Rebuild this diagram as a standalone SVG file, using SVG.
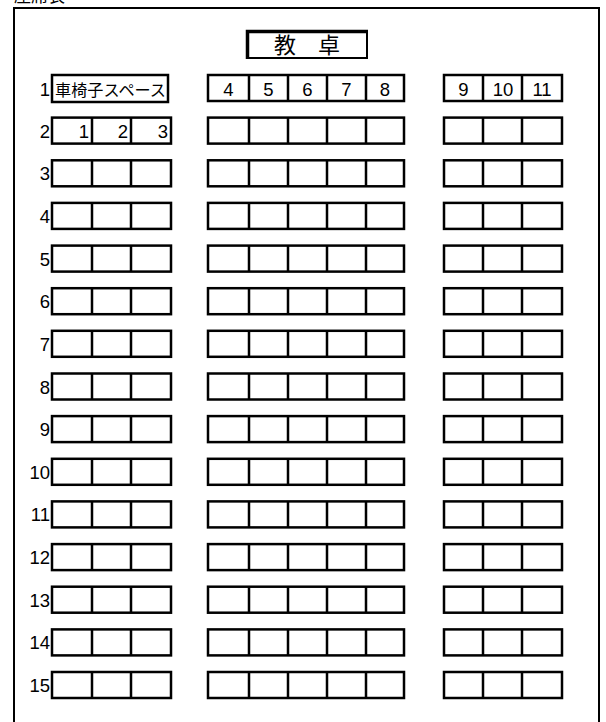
<svg xmlns="http://www.w3.org/2000/svg" xmlns:xlink="http://www.w3.org/1999/xlink" width="606" height="722" viewBox="0 0 606 722">
<style>
.ln{fill:none;stroke:#000;stroke-width:2.5}
.num{font-family:"Liberation Sans",Arial,sans-serif;font-size:18.5px;fill:#000}
.jp{font-family:"Noto Sans CJK JP","Noto Sans CJK SC",sans-serif;fill:#000}
</style>
<defs>
<g id="left3"><rect class="ln" x="52" y="0" width="119" height="26"/><path class="ln" d="M92 0V26M131 0V26"/></g>
<g id="mid5"><rect class="ln" x="208" y="0" width="196" height="26"/><path class="ln" d="M249 0V26M288 0V26M327 0V26M366 0V26"/></g>
<g id="right3"><rect class="ln" x="444" y="0" width="118" height="26"/><path class="ln" d="M483 0V26M522 0V26"/></g>
<g id="seatrow"><use xlink:href="#left3"/><use xlink:href="#mid5"/><use xlink:href="#right3"/></g>
</defs>
<rect width="606" height="722" fill="#fff"/>
<text class="jp" x="14" y="2" font-size="17">座席表</text>
<g id="frame"><path fill="none" stroke="#000" stroke-width="2" d="M14 722V8H599V722"/></g>
<g id="teacher-desk">
<rect x="247" y="32" width="120" height="26" fill="#fff" stroke="#000" stroke-width="2"/>
<path d="M247.5 59V31.5H368" fill="none" stroke="#000" stroke-width="3.5"/>
<text class="jp" x="307" y="53" font-size="22" text-anchor="middle">教　卓</text>
</g>
<g id="row1">
<text class="num" x="50" y="96" text-anchor="end">1</text>
<rect class="ln" x="52" y="75" width="116" height="27"/>
<text class="jp" x="55" y="95.5" font-size="16" textLength="111" lengthAdjust="spacingAndGlyphs">車椅子スペース</text>
<g transform="translate(0,75)"><use xlink:href="#mid5"/><use xlink:href="#right3"/></g>
<g class="num" text-anchor="middle">
<text x="228.5" y="96">4</text><text x="268.5" y="96">5</text><text x="307.5" y="96">6</text><text x="346.5" y="96">7</text><text x="385" y="96">8</text>
<text x="463.5" y="96">9</text><text x="503" y="96">10</text><text x="542" y="96">11</text>
</g>
</g>
<g id="row2" transform="translate(0,117.6)"><use xlink:href="#seatrow"/><text class="num" x="50" y="20" text-anchor="end">2</text>
<g class="num" text-anchor="end"><text x="89" y="20">1</text><text x="128" y="20">2</text><text x="168" y="20">3</text></g></g>
<g id="row3" transform="translate(0,160.3)"><use xlink:href="#seatrow"/><text class="num" x="50" y="20" text-anchor="end">3</text></g>
<g id="row4" transform="translate(0,202.9)"><use xlink:href="#seatrow"/><text class="num" x="50" y="20" text-anchor="end">4</text></g>
<g id="row5" transform="translate(0,245.6)"><use xlink:href="#seatrow"/><text class="num" x="50" y="20" text-anchor="end">5</text></g>
<g id="row6" transform="translate(0,288.2)"><use xlink:href="#seatrow"/><text class="num" x="50" y="20" text-anchor="end">6</text></g>
<g id="row7" transform="translate(0,330.8)"><use xlink:href="#seatrow"/><text class="num" x="50" y="20" text-anchor="end">7</text></g>
<g id="row8" transform="translate(0,373.5)"><use xlink:href="#seatrow"/><text class="num" x="50" y="20" text-anchor="end">8</text></g>
<g id="row9" transform="translate(0,416.1)"><use xlink:href="#seatrow"/><text class="num" x="50" y="20" text-anchor="end">9</text></g>
<g id="row10" transform="translate(0,458.8)"><use xlink:href="#seatrow"/><text class="num" x="50" y="20" text-anchor="end">10</text></g>
<g id="row11" transform="translate(0,501.4)"><use xlink:href="#seatrow"/><text class="num" x="50" y="20" text-anchor="end">11</text></g>
<g id="row12" transform="translate(0,544.1)"><use xlink:href="#seatrow"/><text class="num" x="50" y="20" text-anchor="end">12</text></g>
<g id="row13" transform="translate(0,586.7)"><use xlink:href="#seatrow"/><text class="num" x="50" y="20" text-anchor="end">13</text></g>
<g id="row14" transform="translate(0,629.4)"><use xlink:href="#seatrow"/><text class="num" x="50" y="20" text-anchor="end">14</text></g>
<g id="row15" transform="translate(0,672)"><use xlink:href="#seatrow"/><text class="num" x="50" y="20" text-anchor="end">15</text></g>
</svg>
